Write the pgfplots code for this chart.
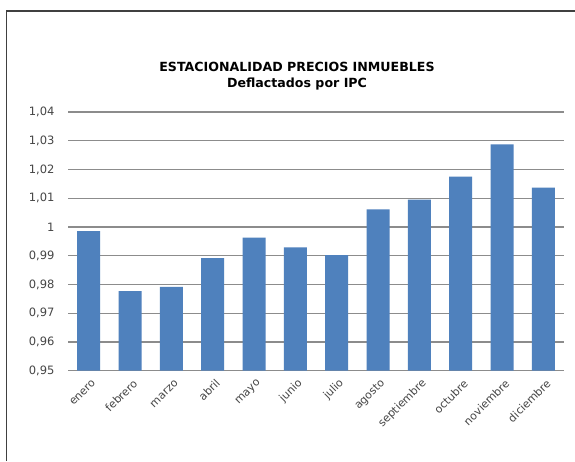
\documentclass[border=0pt]{standalone}
\usepackage{pgfplots}
\pgfplotsset{compat=1.18}
\usepackage{fontspec}
\setmainfont{DejaVu Sans}
\definecolor{barblue}{RGB}{79,129,189}
\definecolor{gridgray}{RGB}{140,140,140}
\definecolor{labelgray}{RGB}{70,70,70}
\begin{document}
\begin{tikzpicture}[x=1pt,y=1pt]
\useasboundingbox (0,0) rectangle (575,461);
\fill[white] (0,0) rectangle (575,461);
% chart frame (left and top edges visible)
\draw[line width=1.8pt, black!75] (6.5,0) -- (6.5,450.3) -- (575,450.3);
% title
\node[font=\bfseries\fontsize{12.6}{14}\selectfont] at (297,394.3) {ESTACIONALIDAD PRECIOS INMUEBLES};
\node[font=\bfseries\fontsize{12.6}{14}\selectfont] at (297,376.7) {Deflactados por IPC};
\begin{axis}[
  at={(68pt,90.3pt)}, anchor=south west,
  scale only axis, width=496pt, height=258.7pt,
  ybar, bar width=23pt,
  xmin=-0.5, xmax=11.5, ymin=0.95, ymax=1.04,
  ytick={0.95,0.96,...,1.04},
  xtick=data,
  xticklabels={enero,febrero,marzo,abril,mayo,junio,julio,agosto,septiembre,octubre,noviembre,diciembre},
  ymajorgrids, grid style={gridgray, line width=1.3pt},
  major tick length=0pt,
  axis y line*=left, axis x line*=bottom,
  y axis line style={draw=none},
  x axis line style={gridgray, line width=1.3pt, -},
  /pgf/number format/assume math mode=true,
  /pgf/number format/use comma,
  /pgf/number format/fixed,
  /pgf/number format/precision=2,
  yticklabel style={font=\fontsize{11.5}{13}\selectfont, text=labelgray, anchor=east, xshift=-10pt},
  xticklabel style={font=\fontsize{11}{13}\selectfont, text=labelgray, xshift=6pt, yshift=-10pt, rotate=45, anchor=east, inner sep=1pt},
]
\addplot[fill=barblue, draw=none] coordinates {
  (0,0.9986) (1,0.9777) (2,0.9792) (3,0.9892) (4,0.9963) (5,0.9929)
  (6,0.9902) (7,1.0061) (8,1.0095) (9,1.0175) (10,1.0287) (11,1.0137)
};
\end{axis}
\end{tikzpicture}
\end{document}
